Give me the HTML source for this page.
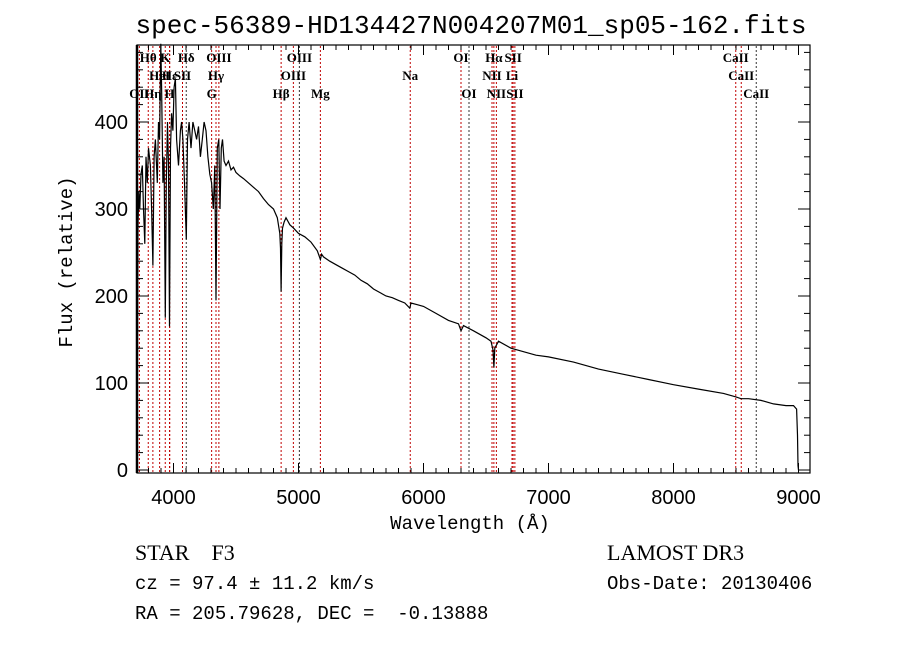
<!DOCTYPE html>
<html><head><meta charset="utf-8"><style>
body{margin:0;background:#fff;}
svg text{font-family:"Liberation Sans",sans-serif;fill:#000;white-space:pre;}
.mono{font-family:"Liberation Mono",monospace;}
.ser{font-family:"Liberation Serif",serif;}
</style></head><body>
<svg id="chart" width="900" height="649" viewBox="0 0 900 649" xmlns="http://www.w3.org/2000/svg" xml:space="preserve">
<rect x="0" y="0" width="900" height="649" fill="#fff"/>
<text x="471" y="33" font-size="26" text-anchor="middle" class="mono">spec-56389-HD134427N004207M01_sp05-162.fits</text>
<g id="lines"></g>
<g id="labels"></g>
<path id="spec" fill="none" stroke="#000" stroke-width="1.2"/>
<rect x="137" y="45" width="673" height="428" fill="none" stroke="#000" stroke-width="1.2"/>
<line x1="137" y1="45" x2="137" y2="473" stroke="#000" stroke-width="2.5"/>
<g id="ticks"></g>
<text x="470" y="529" font-size="19" text-anchor="middle" class="mono">Wavelength (Å)</text>
<text transform="translate(72,262) rotate(-90)" font-size="19" text-anchor="middle" class="mono">Flux (relative)</text>
<text x="135" y="560" font-size="22" class="ser">STAR    F3</text>
<text x="135" y="589" font-size="19" class="mono">cz = 97.4 ± 11.2 km/s</text>
<text x="135" y="619" font-size="19" class="mono">RA = 205.79628, DEC =  -0.13888</text>
<text x="607" y="560" font-size="22" class="ser">LAMOST DR3</text>
<text x="607" y="589" font-size="19" class="mono">Obs-Date: 20130406</text>
</svg>
<script>
const xTicks=[4000,5000,6000,7000,8000,9000];
const yTicks=[0,100,200,300,400];
const lineWl=[3727,3798,3835,3889,3934,3968,3970,4072,4102,4305,4340,4363,4861,4959,5007,5175,5894,6300,6364,6548,6563,6583,6708,6717,6731,8498,8542,8662];
const lineName=["OII","Hθ","Hη","HeI","K","H","Hε","SII","Hδ","G","Hγ","OIII","Hβ","OIII","OIII","Mg","Na","OI","OI","NII","Hα","NII","Li","SII","SII","CaII","CaII","CaII"];
const lineRow=[2,0,2,1,0,2,1,1,0,2,1,0,2,1,0,2,1,0,2,1,0,2,1,0,2,0,1,2];
const lineDark=[0,0,0,0,0,0,0,0,1,0,0,0,0,0,1,0,0,0,1,0,0,0,0,0,0,0,0,1];
const specWl=[3708,3712,3716,3722,3730,3740,3750,3760,3770,3780,3790,3800,3815,3825,3835,3845,3855,3870,3880,3889,3898,3905,3915,3925,3934,3942,3952,3960,3968,3976,3985,3995,4005,4015,4025,4040,4055,4065,4075,4088,4102,4112,4125,4140,4155,4170,4185,4200,4215,4230,4245,4260,4275,4290,4305,4318,4330,4340,4350,4362,4372,4382,4392,4405,4420,4440,4460,4480,4500,4530,4560,4600,4640,4680,4720,4760,4800,4830,4850,4856,4861,4866,4872,4885,4900,4930,4960,5000,5050,5100,5150,5175,5185,5200,5250,5300,5350,5400,5450,5500,5550,5600,5650,5700,5750,5800,5850,5890,5900,5950,6000,6100,6200,6280,6300,6320,6400,6500,6540,6556,6563,6570,6600,6700,6800,6900,7000,7200,7400,7600,7800,8000,8200,8400,8500,8540,8600,8700,8800,8900,8960,8985,8992,8996,9000];
const specFlux=[0,150,280,320,300,340,350,300,260,360,330,370,350,300,235,360,380,330,400,380,490,440,330,360,175,330,400,350,165,370,410,390,440,450,380,350,390,400,380,330,265,380,400,370,400,390,380,395,360,380,400,390,360,340,330,300,350,195,370,380,300,370,380,355,350,355,345,348,342,338,335,330,325,320,312,305,300,290,272,255,205,260,278,285,290,282,278,272,268,262,252,242,248,245,240,236,232,228,224,218,214,208,204,200,198,195,192,186,192,190,188,180,172,168,160,166,160,152,148,138,118,140,148,140,136,132,130,124,116,110,104,98,93,88,84,82,82,80,76,74,74,70,40,5,0];
const X=l=>173.5+(l-4000)*0.125;
const Y=v=>470-v*0.87;
const NS="http://www.w3.org/2000/svg";
function mk(tag,attrs,parent){const e=document.createElementNS(NS,tag);for(const k in attrs)e.setAttribute(k,attrs[k]);parent.appendChild(e);return e;}
const gl=document.getElementById('lines'),glab=document.getElementById('labels'),gt=document.getElementById('ticks');
lineWl.forEach((w,i)=>{
 const l=mk('line',{x1:X(w),x2:X(w),y1:46,y2:472,stroke:lineDark[i]?'#333':'#c00000','stroke-width':1,'stroke-dasharray':'2,2'},gl);
 
 
 const t=mk('text',{x:X(w),y:62+lineRow[i]*18,'font-size':13,'font-weight':'bold','text-anchor':'middle','class':'ser'},glab);
 t.textContent=lineName[i];
 
 
});
let d='';specWl.forEach((w,i)=>{d+=(i?'L':'M')+X(w).toFixed(1)+','+Y(specFlux[i]).toFixed(1);});
document.getElementById('spec').setAttribute('d',d);
for(let l=3800;l<=9000;l+=100){
 const maj=l%1000===0,len=maj?10:5,x=X(l);
 const a=mk('line',{x1:x,x2:x,y1:473,y2:473-len,stroke:'#000'},gt);
 
 
 const b=mk('line',{x1:x,x2:x,y1:45,y2:45+len,stroke:'#000'},gt);
 
 
}
xTicks.forEach(l=>{const t=mk('text',{x:X(l),y:504,'font-size':20,'text-anchor':'middle'},gt);t.textContent=l;
 
 });
for(let v=0;v<=480;v+=20){
 const maj=v%100===0,len=maj?12:6,y=Y(v);
 const a=mk('line',{x1:137,x2:137+len,y1:y,y2:y,stroke:'#000'},gt);
 
 
 const b=mk('line',{x1:810,x2:810-len,y1:y,y2:y,stroke:'#000'},gt);
 
 
}
yTicks.forEach(v=>{const t=mk('text',{x:128,y:Y(v)+7,'font-size':20,'text-anchor':'end'},gt);t.textContent=v;
 
 });
</script>
</body></html>
